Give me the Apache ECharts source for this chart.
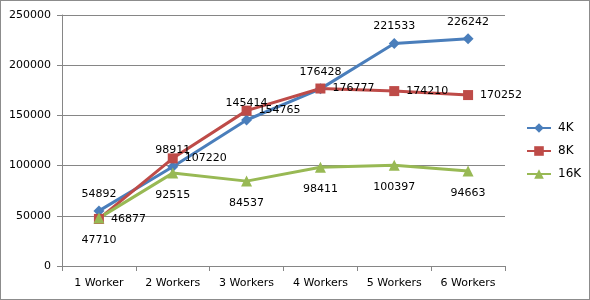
<!DOCTYPE html>
<html><head><meta charset="utf-8">
<script src="https://cdn.jsdelivr.net/npm/echarts@6/dist/echarts.min.js"></script>
<style>html,body{margin:0;padding:0;background:#fff}#c{width:590px;height:300px;box-sizing:border-box;border:1px solid #8c8c8c}</style>
</head><body><div id="c"></div>
<script>
const categories = ['1 Worker','2 Workers','3 Workers','4 Workers','5 Workers','6 Workers'];
const s4K = [54892, 98911, 145414, 176428, 221533, 226242];
const s8K = [46877, 107220, 154765, 176777, 174210, 170252];
const s16K = [47710, 92515, 84537, 98411, 100397, 94663];
const yTicks = {min: 0, max: 250000, interval: 50000};

const font = 'DejaVu Sans';
const chart = echarts.init(document.getElementById('c'), null, {renderer: 'canvas'});
function ser(name, data, color, symbol, size, pos, dist) {
  return {
    name, type: 'line', data, symbol, symbolSize: size,
    lineStyle: {color, width: 3}, itemStyle: {color},
    label: {show: true, position: pos, distance: dist, color: '#000', fontFamily: font, fontSize: 11},
    emphasis: {disabled: true}
  };
}
chart.setOption({
  animation: false,
  grid: {left: 61, right: 84, top: 14, bottom: 33},
  legend: {
    orient: 'vertical', left: 520, top: 116, itemGap: 11, itemWidth: 24, itemHeight: 12,
    textStyle: {fontFamily: font, fontSize: 12, color: '#000', padding: [0, 0, 0, 2]},
    data: [{name: '4K'}, {name: '8K'}, {name: '16K'}]
  },
  xAxis: {
    type: 'category', data: categories, boundaryGap: true,
    axisLine: {lineStyle: {color: '#868686'}},
    axisTick: {show: true, length: 5, lineStyle: {color: '#868686'}},
    axisLabel: {fontFamily: font, fontSize: 11, color: '#000', margin: 12}
  },
  yAxis: {
    type: 'value', min: yTicks.min, max: yTicks.max, interval: yTicks.interval,
    axisLine: {show: true, lineStyle: {color: '#868686'}},
    axisTick: {show: true, length: 5, lineStyle: {color: '#868686'}},
    splitLine: {lineStyle: {color: '#868686'}},
    axisLabel: {fontFamily: font, fontSize: 11, color: '#000', margin: 11, formatter: v => String(v)}
  },
  series: [
    ser('4K', s4K, '#4A7EBB', 'diamond', 11, 'top', 6),
    ser('8K', s8K, '#BE4B48', 'rect', 10, 'right', 7),
    ser('16K', s16K, '#98B954', 'triangle', 11, 'bottom', 11)
  ]
});
</script></body></html>
